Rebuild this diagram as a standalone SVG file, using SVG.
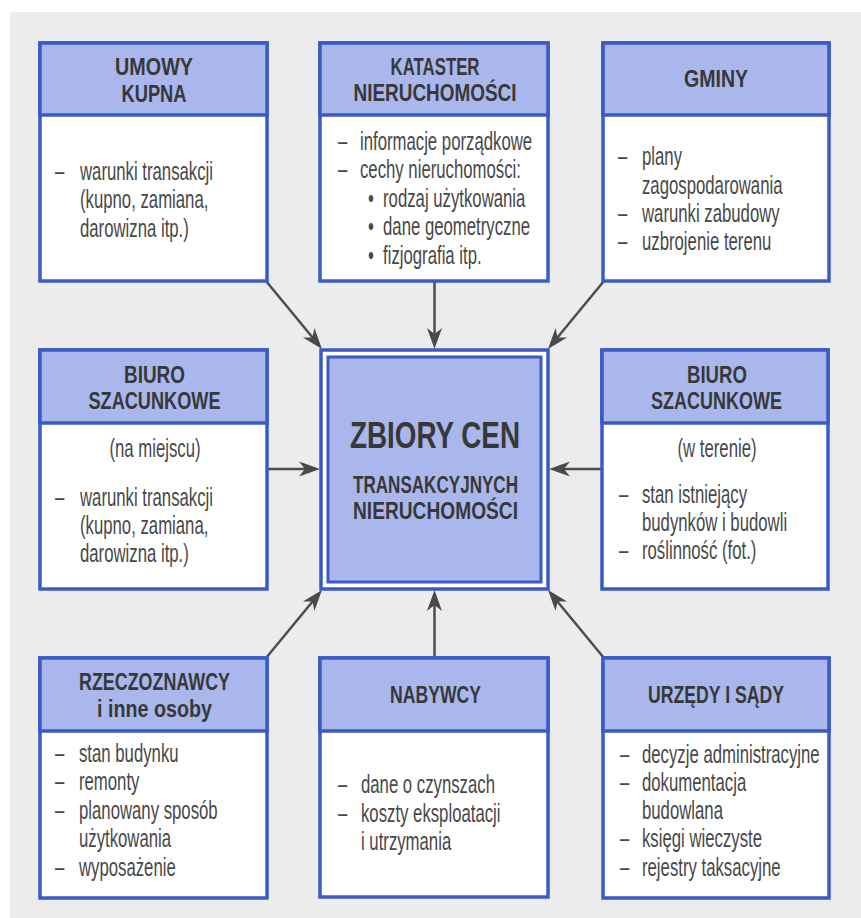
<svg xmlns="http://www.w3.org/2000/svg" width="861" height="918" viewBox="0 0 861 918">
<style>
.box{fill:#ffffff;stroke:#3a5bc6;stroke-width:3.5}
.head{fill:#a9b7ed;stroke:#3a5bc6;stroke-width:3.5}
.h{font-family:"Liberation Sans",Arial,sans-serif;font-weight:bold;font-size:23px;fill:#383838;text-anchor:middle}
.b{font-family:"Liberation Sans",Arial,sans-serif;font-size:25px;fill:#484848}
.c{text-anchor:middle}
.con{stroke:#4d4d4d;stroke-width:2.5;fill:none;marker-end:url(#ah)}
</style>
<defs>
<marker id="ah" markerUnits="userSpaceOnUse" markerWidth="30" markerHeight="20" viewBox="-16 -10 30 20" refX="0" refY="0" orient="auto">
<path d="M8,0 L-13,-7.5 L-7,0 L-13,7.5 Z" fill="#4a4a4a"/>
</marker>
</defs>
<rect x="10" y="12" width="851" height="906" fill="#ececec"/>

<g id="connectors">
<line class="con" x1="266" y1="281" x2="316.9" y2="342.8"/>
<line class="con" x1="434.5" y1="281" x2="434.5" y2="341"/>
<line class="con" x1="604" y1="281" x2="553.1" y2="342.8"/>
<line class="con" x1="267" y1="469" x2="312" y2="469"/>
<line class="con" x1="602" y1="469" x2="557" y2="469"/>
<line class="con" x1="266" y1="658" x2="316.9" y2="596.2"/>
<line class="con" x1="434.5" y1="658" x2="434.5" y2="598"/>
<line class="con" x1="604" y1="658" x2="553.1" y2="596.2"/>
</g>

<g id="umowy">
<rect class="box" x="40" y="43" width="227" height="238"/>
<rect class="head" x="40" y="43" width="227" height="72"/>
<text class="h" x="154" y="75" textLength="78" lengthAdjust="spacingAndGlyphs">UMOWY</text>
<text class="h" x="154" y="102" textLength="65" lengthAdjust="spacingAndGlyphs">KUPNA</text>
<g transform="translate(55 0) scale(0.67 1)">
<text class="b" y="180"><tspan x="0">–</tspan><tspan x="37.3">warunki transakcji</tspan></text>
<text class="b" y="208" x="37.3">(kupno, zamiana,</text>
<text class="b" y="237" x="37.3">darowizna itp.)</text>
</g>
</g>

<g id="kataster">
<rect class="box" x="320" y="43" width="228" height="238"/>
<rect class="head" x="320" y="43" width="228" height="72"/>
<text class="h" x="435" y="75" textLength="89" lengthAdjust="spacingAndGlyphs">KATASTER</text>
<text class="h" x="435" y="101" textLength="163" lengthAdjust="spacingAndGlyphs">NIERUCHOMOŚCI</text>
<g transform="translate(338 0) scale(0.67 1)">
<text class="b" y="150"><tspan x="0">–</tspan><tspan x="32.8">informacje porządkowe</tspan></text>
<text class="b" y="178"><tspan x="0">–</tspan><tspan x="32.8">cechy nieruchomości:</tspan></text>
<text class="b" y="207"><tspan x="44.8">•</tspan><tspan x="67.2">rodzaj użytkowania</tspan></text>
<text class="b" y="235"><tspan x="44.8">•</tspan><tspan x="67.2">dane geometryczne</tspan></text>
<text class="b" y="264"><tspan x="44.8">•</tspan><tspan x="67.2">fizjografia itp.</tspan></text>
</g>
</g>

<g id="gminy">
<rect class="box" x="603" y="43" width="226" height="238"/>
<rect class="head" x="603" y="43" width="226" height="72"/>
<text class="h" x="716" y="87" textLength="64" lengthAdjust="spacingAndGlyphs">GMINY</text>
<g transform="translate(618 0) scale(0.67 1)">
<text class="b" y="165"><tspan x="0">–</tspan><tspan x="35.8">plany</tspan></text>
<text class="b" y="194" x="35.8">zagospodarowania</text>
<text class="b" y="222"><tspan x="0">–</tspan><tspan x="35.8">warunki zabudowy</tspan></text>
<text class="b" y="250"><tspan x="0">–</tspan><tspan x="35.8">uzbrojenie terenu</tspan></text>
</g>
</g>

<g id="biuro-miejsce">
<rect class="box" x="40" y="350" width="227" height="239"/>
<rect class="head" x="40" y="350" width="227" height="73"/>
<text class="h" x="154.5" y="383" textLength="61" lengthAdjust="spacingAndGlyphs">BIURO</text>
<text class="h" x="154.5" y="409" textLength="132" lengthAdjust="spacingAndGlyphs">SZACUNKOWE</text>
<g transform="translate(155 0) scale(0.67 1)">
<text class="b c" x="0" y="457">(na miejscu)</text>
</g>
<g transform="translate(55 0) scale(0.67 1)">
<text class="b" y="506"><tspan x="0">–</tspan><tspan x="37.3">warunki transakcji</tspan></text>
<text class="b" y="534" x="37.3">(kupno, zamiana,</text>
<text class="b" y="562" x="37.3">darowizna itp.)</text>
</g>
</g>

<g id="biuro-teren">
<rect class="box" x="602" y="350" width="226" height="239"/>
<rect class="head" x="602" y="350" width="226" height="73"/>
<text class="h" x="717" y="383" textLength="60" lengthAdjust="spacingAndGlyphs">BIURO</text>
<text class="h" x="716.5" y="409" textLength="131" lengthAdjust="spacingAndGlyphs">SZACUNKOWE</text>
<g transform="translate(717 0) scale(0.67 1)">
<text class="b c" x="0" y="457">(w terenie)</text>
</g>
<g transform="translate(619 0) scale(0.67 1)">
<text class="b" y="503"><tspan x="0">–</tspan><tspan x="34.3">stan istniejący</tspan></text>
<text class="b" y="531" x="34.3">budynków i budowli</text>
<text class="b" y="559"><tspan x="0">–</tspan><tspan x="34.3">roślinność (fot.)</tspan></text>
</g>
</g>

<g id="zbiory">
<rect x="321" y="350" width="227" height="239" fill="#ffffff" stroke="#3a5bc6" stroke-width="3.5"/>
<rect x="328" y="357" width="213" height="225" fill="#a9b7ed" stroke="#3a5bc6" stroke-width="3"/>
<text class="h" x="435" y="448" style="font-size:37px" textLength="170" lengthAdjust="spacingAndGlyphs">ZBIORY CEN</text>
<text class="h" x="435.5" y="493" textLength="165" lengthAdjust="spacingAndGlyphs">TRANSAKCYJNYCH</text>
<text class="h" x="435.5" y="519" textLength="165" lengthAdjust="spacingAndGlyphs">NIERUCHOMOŚCI</text>
</g>

<g id="rzeczoznawcy">
<rect class="box" x="40" y="658" width="227" height="240"/>
<rect class="head" x="40" y="658" width="227" height="73"/>
<text class="h" x="154.5" y="690" textLength="151" lengthAdjust="spacingAndGlyphs">RZECZOZNAWCY</text>
<text class="h" x="154.5" y="717" textLength="115" lengthAdjust="spacingAndGlyphs">i inne osoby</text>
<g transform="translate(55 0) scale(0.67 1)">
<text class="b" y="762"><tspan x="0">–</tspan><tspan x="35.8">stan budynku</tspan></text>
<text class="b" y="790"><tspan x="0">–</tspan><tspan x="35.8">remonty</tspan></text>
<text class="b" y="819"><tspan x="0">–</tspan><tspan x="35.8">planowany sposób</tspan></text>
<text class="b" y="847" x="35.8">użytkowania</text>
<text class="b" y="876"><tspan x="0">–</tspan><tspan x="35.8">wyposażenie</tspan></text>
</g>
</g>

<g id="nabywcy">
<rect class="box" x="320" y="658" width="228" height="239"/>
<rect class="head" x="320" y="658" width="228" height="73"/>
<text class="h" x="435.5" y="703" textLength="91" lengthAdjust="spacingAndGlyphs">NABYWCY</text>
<g transform="translate(338 0) scale(0.67 1)">
<text class="b" y="793"><tspan x="0">–</tspan><tspan x="34.3">dane o czynszach</tspan></text>
<text class="b" y="822"><tspan x="0">–</tspan><tspan x="34.3">koszty eksploatacji</tspan></text>
<text class="b" y="850" x="34.3">i utrzymania</text>
</g>
</g>

<g id="urzedy">
<rect class="box" x="603" y="658" width="226" height="240"/>
<rect class="head" x="603" y="658" width="226" height="73"/>
<text class="h" x="716" y="703" textLength="136" lengthAdjust="spacingAndGlyphs">URZĘDY I SĄDY</text>
<g transform="translate(620 0) scale(0.67 1)">
<text class="b" y="763"><tspan x="0">–</tspan><tspan x="32.8">decyzje administracyjne</tspan></text>
<text class="b" y="791"><tspan x="0">–</tspan><tspan x="32.8">dokumentacja</tspan></text>
<text class="b" y="819" x="32.8">budowlana</text>
<text class="b" y="847"><tspan x="0">–</tspan><tspan x="32.8">księgi wieczyste</tspan></text>
<text class="b" y="876"><tspan x="0">–</tspan><tspan x="32.8">rejestry taksacyjne</tspan></text>
</g>
</g>
</svg>
